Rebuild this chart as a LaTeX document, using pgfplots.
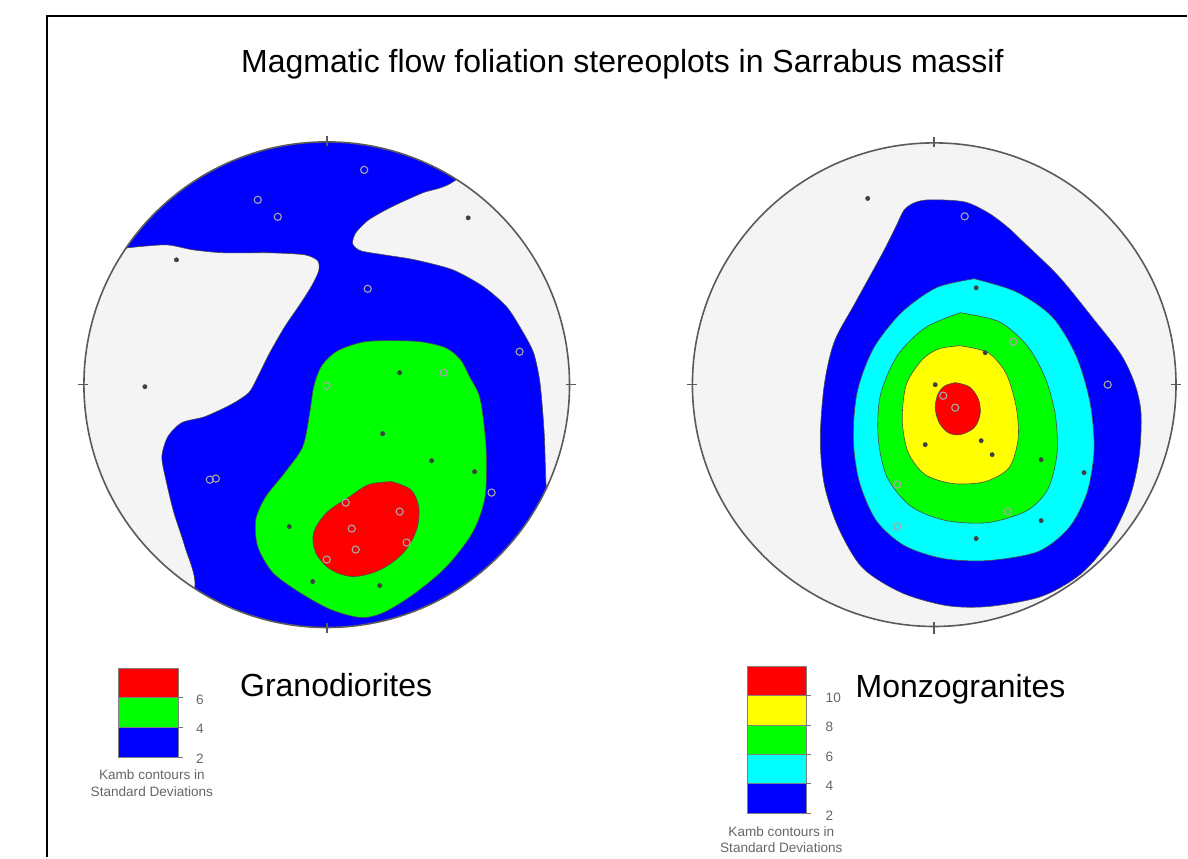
\documentclass[border=0pt]{standalone}
\usepackage{fontspec}
\setmainfont{Liberation Sans}
\usepackage{pgfplots}
\pgfplotsset{compat=1.18}
\definecolor{cblue}{RGB}{0,0,255}
\definecolor{cgreen}{RGB}{0,255,0}
\definecolor{cred}{RGB}{255,0,0}
\definecolor{cyel}{RGB}{255,255,0}
\definecolor{ccyan}{RGB}{0,255,255}
\definecolor{netbg}{RGB}{244,244,244}
\definecolor{rim}{RGB}{90,90,90}
\begin{document}
\begin{tikzpicture}
\begin{axis}[width=594pt,height=429pt,scale only axis,
  xmin=0,xmax=1188,ymin=0,ymax=858,y dir=reverse,hide axis,clip=false]
\path (axis cs:0,0) rectangle (axis cs:1188,858);
% frame
\draw[line width=1pt] (axis cs:47.5,858) -- (axis cs:47.5,16.5) -- (axis cs:1188,16.5);
% title
\node[anchor=base west,inner sep=0pt,font=\fontsize{16}{19}\selectfont] at (axis cs:241,73)
  {Magmatic flow foliation stereoplots in Sarrabus massif};

% ================= LEFT NET (Granodiorites) =================
\fill[netbg] (axis cs:327,385) circle[radius=121.5pt];
\addplot[fill=cblue,draw=black!70,line width=0.3pt,smooth,tension=0.45] coordinates {
(128,248) (166,245) (193,250) (224,253) (270,253) (305,255) (318,261) (319,271)
(312,286) (300,305) (285,327) (270,353) (258,377) (249,393) (231,405) (205,417)
(182,423) (168,437) (162,457) (166,480) (174,513) (185,547) (195,588)
(170,645) (327,652) (560,640) (590,560) (575,492)
(549,492) (546,470) (545,440) (543,410) (540,380) (534,353) (522,330) (507,307)
(484,287) (453,270) (415,260) (384,255) (361,251) (353,244) (356,233) (369,220)
(392,207) (423,193) (455,181)
(520,125) (327,115) (75,125) (75,248) (128,248)};
% mask outside the net
\fill[white,even odd rule] (axis cs:55,100) rectangle (axis cs:610,668)
  (axis cs:327,385) circle[radius=121.5pt];
\addplot[fill=cgreen,draw=black!70,line width=0.3pt,smooth,tension=0.5] coordinates {
(396,341) (421,342) (446,348) (461,360) (470,377) (480,397) (485,430) (487,463)
(485,500) (473,533) (447,567) (415,594) (384,613) (361,618) (331,610) (300,593)
(273,573) (258,547) (256,520) (266,497) (285,473) (303,447) (310,413) (314,387)
(322,366) (338,351) (365,342) (396,341)};
\addplot[fill=cred,draw=black!70,line width=0.3pt,smooth,tension=0.55] coordinates {
(392,482) (411,490) (419,507) (417,530) (404,553) (381,570) (354,577) (331,570)
(316,553) (314,533) (327,513) (350,497) (369,485) (392,482)};
% data points
\addplot[only marks,mark=o,mark size=1.8pt,mark options={draw=black!35,line width=0.55pt}] coordinates {
(364.5,170) (258,200) (278,217) (368,289) (520,352) (327,386) (444,373) (210,480)
(216,479) (492,493) (346,503) (400,512) (352,529) (356,550) (407,543) (327,560)};
\addplot[only marks,mark=*,mark size=1.0pt,mark options={draw=black!75,fill=black!75}] coordinates {
(468.6,218) (176.6,260) (145,387) (400,373) (383,434) (432,461) (475,472)
(289.5,527) (313,582) (380,586)};
% rim and ticks
\draw[rim,line width=0.8pt] (axis cs:327,385) circle[radius=121.5pt];
\draw[rim,line width=0.8pt] (axis cs:327,136) -- (axis cs:327,146)
  (axis cs:327,624) -- (axis cs:327,634) (axis cs:78,385) -- (axis cs:88,385)
  (axis cs:566,385) -- (axis cs:576,385);

% ================= RIGHT NET (Monzogranites) =================
\fill[netbg] (axis cs:935,385) circle[radius=121pt];
\addplot[fill=cblue,draw=black!70,line width=0.3pt,smooth,tension=0.5] coordinates {
(898,224) (905,210) (915,203) (930,200) (965,202) (989,213) (1008,227) (1024,242)
(1060,277) (1095,320) (1122,355) (1136,385) (1142,414) (1140,457) (1130,500)
(1109,543) (1081,575) (1042,597) (989,607) (947,606) (902,593) (863,568) (839,528)
(825,485) (821,439) (825,385) (835,342) (856,303) (884,252) (898,224)};
\addplot[fill=ccyan,draw=black!70,line width=0.3pt,smooth,tension=0.5] coordinates {
(975,279) (1017,292) (1053,317) (1077,356) (1091,403) (1095,450) (1088,493)
(1070,528) (1039,552) (989,561) (944,559) (905,546) (877,521) (860,482) (854,439)
(858,392) (874,349) (902,313) (937,288) (975,279)};
\addplot[fill=cgreen,draw=black!70,line width=0.3pt,smooth,tension=0.5] coordinates {
(961,313) (1000,322) (1028,346) (1046,378) (1056,414) (1058,453) (1049,489)
(1028,511) (989,523) (947,521) (912,507) (888,478) (879,439) (881,396) (898,356)
(926,328) (961,313)};
\addplot[fill=cyel,draw=black!70,line width=0.3pt,smooth,tension=0.5] coordinates {
(961,346) (989,353) (1007,374) (1017,407) (1019,439) (1010,468) (986,482) (954,484)
(926,475) (909,453) (903,421) (907,385) (923,360) (940,349) (961,346)};
\addplot[fill=cred,draw=black!70,line width=0.3pt,smooth,tension=0.55] coordinates {
(956,383) (970,387) (979,399) (981,414) (975,428) (961,435) (949,433) (940,423)
(936,408) (939,394) (946,386) (956,383)};
\addplot[only marks,mark=o,mark size=1.8pt,mark options={draw=black!35,line width=0.55pt}] coordinates {
(965.5,216.5) (1014,342) (1108.6,385) (956,408) (944,396) (1008.6,512) (898,485) (898,527)};
\addplot[only marks,mark=*,mark size=1.0pt,mark options={draw=black!75,fill=black!75}] coordinates {
(868.4,198.6) (977,288) (986,353) (982,441) (993,455) (926,445) (1042,460)
(1085,473) (1042,521) (977,539) (936,385)};
\draw[rim,line width=0.8pt] (axis cs:935,385) circle[radius=121pt];
\draw[rim,line width=0.8pt] (axis cs:935,137) -- (axis cs:935,147)
  (axis cs:935,623) -- (axis cs:935,635) (axis cs:688,385) -- (axis cs:698,385)
  (axis cs:1172,385) -- (axis cs:1182,385);

% ================= LEGENDS =================
\node[anchor=base west,inner sep=0pt,font=\fontsize{16}{19}\selectfont] at (axis cs:240,697) {Granodiorites};
\node[anchor=base west,inner sep=0pt,font=\fontsize{16}{19}\selectfont] at (axis cs:856,698) {Monzogranites};
% left colour bar
\filldraw[fill=cred,draw=black!50,line width=0.2pt] (axis cs:118.5,669) rectangle (axis cs:178,698);
\filldraw[fill=cgreen,draw=black!50,line width=0.2pt] (axis cs:118.5,698) rectangle (axis cs:178,728);
\filldraw[fill=cblue,draw=black!50,line width=0.2pt] (axis cs:118.5,728) rectangle (axis cs:178,758);
\draw[black!55,line width=0.4pt] (axis cs:178,698) -- (axis cs:183,698)
  (axis cs:178,728) -- (axis cs:183,728) (axis cs:178,758) -- (axis cs:183,758);
\begin{scope}[font=\fontsize{6.8}{8}\selectfont,text=black!60,inner sep=0pt]
\node[anchor=west] at (axis cs:196,700) {6};
\node[anchor=west] at (axis cs:196,729) {4};
\node[anchor=west] at (axis cs:196,759) {2};
\node at (axis cs:152,775) {Kamb contours in};
\node at (axis cs:152,792) {Standard Deviations};
\end{scope}
% right colour bar
\filldraw[fill=cred,draw=black!50,line width=0.2pt] (axis cs:748,667) rectangle (axis cs:807,696);
\filldraw[fill=cyel,draw=black!50,line width=0.2pt] (axis cs:748,696) rectangle (axis cs:807,726);
\filldraw[fill=cgreen,draw=black!50,line width=0.2pt] (axis cs:748,726) rectangle (axis cs:807,755);
\filldraw[fill=ccyan,draw=black!50,line width=0.2pt] (axis cs:748,755) rectangle (axis cs:807,784);
\filldraw[fill=cblue,draw=black!50,line width=0.2pt] (axis cs:748,784) rectangle (axis cs:807,814);
\draw[black!55,line width=0.4pt] (axis cs:807,696) -- (axis cs:812,696)
  (axis cs:807,726) -- (axis cs:812,726) (axis cs:807,755) -- (axis cs:812,755)
  (axis cs:807,784) -- (axis cs:812,784) (axis cs:807,814) -- (axis cs:812,814);
\begin{scope}[font=\fontsize{6.8}{8}\selectfont,text=black!60,inner sep=0pt]
\node[anchor=west] at (axis cs:826,698) {10};
\node[anchor=west] at (axis cs:826,727) {8};
\node[anchor=west] at (axis cs:826,757) {6};
\node[anchor=west] at (axis cs:826,786) {4};
\node[anchor=west] at (axis cs:826,816) {2};
\node at (axis cs:782,832) {Kamb contours in};
\node at (axis cs:782,848) {Standard Deviations};
\end{scope}
\end{axis}
\end{tikzpicture}
\end{document}
